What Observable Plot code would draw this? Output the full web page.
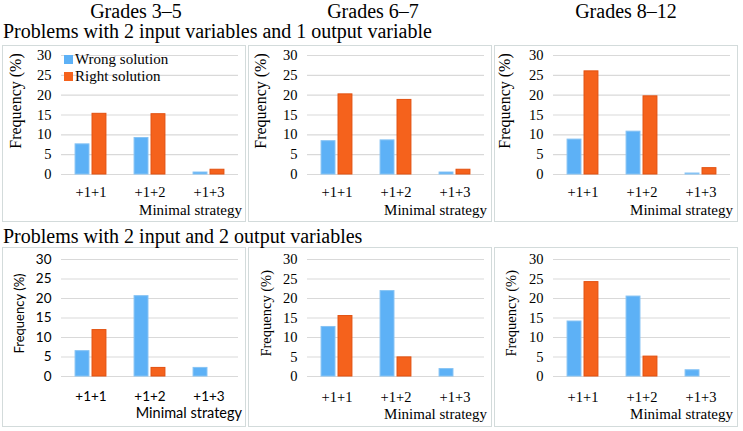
<!DOCTYPE html>
<html><head><meta charset="utf-8">
<script src="https://cdn.jsdelivr.net/npm/d3@7"></script>
<script src="https://cdn.jsdelivr.net/npm/@observablehq/plot@0.6"></script>
<style>
body{margin:0;background:#fff;}
#root{position:relative;width:743px;height:431px;overflow:hidden;background:#fff;font-family:"Liberation Serif","Times New Roman",serif;color:#000;}
.t{position:absolute;white-space:nowrap;color:#000;}
.sansTxt{font-family:"Lato","Open Sans",sans-serif;}
.panel{position:absolute;border:1px solid #d3dbdb;box-sizing:border-box;background:#fff;}
.panel svg{display:block;overflow:visible;}
.panel.serif svg, .panel.serif svg text{font-family:"Liberation Serif","Times New Roman",serif !important;}
.panel.sans svg, .panel.sans svg text{font-family:"Lato","Open Sans",sans-serif !important;}
.sw{position:absolute;width:9px;height:9px;}
</style></head><body><div id="root"></div>
<script>
const categories = ["+1+1", "+1+2", "+1+3"];
const series = ["Wrong solution", "Right solution"];
const gradeTitles = ["Grades 3–5", "Grades 6–7", "Grades 8–12"];
const rowTitles = ["Problems with 2 input variables and 1 output variable", "Problems with 2 input and 2 output variables"];
const yTicks = [0, 5, 10, 15, 20, 25, 30];
const yLabel = "Frequency (%)";
const xLabel = "Minimal strategy";

// Row 1: problems with 2 input variables and 1 output variable
const wrong_1out_g35  = [7.6, 9.2, 0.5];
const right_1out_g35  = [15.3, 15.2, 1.2];
const wrong_1out_g67  = [8.4, 8.6, 0.5];
const right_1out_g67  = [20.2, 18.8, 1.2];
const wrong_1out_g812 = [8.8, 10.8, 0.25];
const right_1out_g812 = [26.0, 19.7, 1.6];
// Row 2: problems with 2 input and 2 output variables
const wrong_2out_g35  = [6.5, 20.6, 2.2];
const right_2out_g35  = [11.9, 2.2, 0];
const wrong_2out_g67  = [12.7, 21.9, 1.9];
const right_2out_g67  = [15.5, 4.9, 0];
const wrong_2out_g812 = [14.1, 20.5, 1.6];
const right_2out_g812 = [24.2, 5.1, 0];

const BLUE = "#5db1f6", BLUE_S = "#86c3f4";
const ORANGE = "#f5621c", ORANGE_S = "#e2500f";

const root = document.getElementById("root");
function addText(txt, {left, top, size, align, width, sans, rotate}) {
  const d = document.createElement("div");
  d.className = "t" + (sans ? " sansTxt" : "");
  d.textContent = txt;
  d.style.fontSize = size + "px";
  d.style.lineHeight = size + "px";
  d.style.top = top + "px";
  d.style.left = left + "px";
  if (width) { d.style.width = width + "px"; d.style.textAlign = align || "left"; }
  if (rotate) d.style.transform = "rotate(" + rotate + "deg)";
  root.appendChild(d);
  return d;
}

function makePanel({wrong, right, left, top, w, h, mTop, mBottom, sans, tickSize, tickPad}) {
  const box = document.createElement("div");
  box.className = "panel " + (sans ? "sans" : "serif");
  box.style.left = left + "px"; box.style.top = top + "px";
  box.style.width = w + "px"; box.style.height = h + "px";
  const dataW = categories.map((c, i) => ({cat: c, s: series[0], v: wrong[i]}));
  const dataR = categories.map((c, i) => ({cat: c, s: series[1], v: right[i]}));
  const chart = Plot.plot({
    width: w - 2, height: h - 2,
    marginTop: mTop, marginBottom: mBottom, marginLeft: 57, marginRight: 7,
    style: {fontSize: tickSize + "px", color: "#000", background: "transparent", overflow: "visible"},
    fx: {domain: categories, padding: 0, label: null},
    x: {domain: series, paddingInner: 0.18, paddingOuter: 0.83, axis: null, round: false},
    y: {domain: [0, 30], label: null},
    marks: [
      Plot.gridY(yTicks, {stroke: "#d9d9d9", strokeOpacity: 1, strokeWidth: 1.2}),
      Plot.barY(dataW, {fx: "cat", x: "s", y: "v", fill: BLUE, stroke: BLUE_S, strokeWidth: 1}),
      Plot.barY(dataR, {fx: "cat", x: "s", y: "v", fill: ORANGE, stroke: ORANGE_S, strokeWidth: 1}),
      Plot.axisY({ticks: yTicks, tickSize: 0, tickPadding: 10, fontSize: tickSize, label: null}),
      Plot.axisFx({anchor: "bottom", tickSize: 0, tickPadding: tickPad, fontSize: tickSize, label: null})
    ]
  });
  box.appendChild(chart);
  root.appendChild(box);
}

const lefts = [2, 248, 494];
const row1 = [[wrong_1out_g35, right_1out_g35], [wrong_1out_g67, right_1out_g67], [wrong_1out_g812, right_1out_g812]];
const row2 = [[wrong_2out_g35, right_2out_g35], [wrong_2out_g67, right_2out_g67], [wrong_2out_g812, right_2out_g812]];

row1.forEach(([wr, rt], i) => makePanel({wrong: wr, right: rt, left: lefts[i], top: 45, w: 244, h: 177,
  mTop: 9, mBottom: 47, sans: false, tickSize: 14.5, tickPad: 12}));
row2.forEach(([wr, rt], i) => makePanel({wrong: wr, right: rt, left: lefts[i], top: 247, w: 244, h: 180,
  mTop: 11, mBottom: 50, sans: i === 0, tickSize: i === 0 ? 13.5 : 14.5, tickPad: 15}));

// axis titles (HTML text)
const yLabCX = [[16, 261, 505], [19, 266, 511]];
const yLabCY = [101, 313];
const yLabSize = [[16, 16, 16], [13, 14.5, 14.5]];
[0, 1].forEach(r => lefts.forEach((lx, i) => {
  const s = yLabSize[r][i];
  addText(yLabel, {left: yLabCX[r][i] - 100, top: yLabCY[r] - s / 2, size: s, width: 200, align: "center",
    sans: r === 1 && i === 0, rotate: -90});
}));
const xLabRight = [242, 487, 733];
const xLabCY = [210, 414];
[0, 1].forEach(r => lefts.forEach((lx, i) => {
  const sans = r === 1 && i === 0;
  const s = sans ? 14.5 : 15;
  addText(xLabel, {left: xLabRight[i] - 300, top: xLabCY[r] - (sans ? 8 : 7.3), size: s, width: 300, align: "right", sans});
}));

// titles
const gradeCenters = [136, 373, 626];
gradeTitles.forEach((g, i) => addText(g, {left: gradeCenters[i] - 200, top: 1.3, size: 20, width: 400, align: "center"}));
addText(rowTitles[0], {left: 3, top: 21.3, size: 20});
addText(rowTitles[1], {left: 3, top: 226.3, size: 20});

// legend (in first panel)
[[series[0], BLUE, 55], [series[1], ORANGE, 72]].forEach(([s, c, y]) => {
  const sw = document.createElement("div");
  sw.className = "sw"; sw.style.background = c; sw.style.left = "64px"; sw.style.top = y + "px";
  root.appendChild(sw);
  addText(s, {left: 75, top: y - 3, size: 15});
});
</script></body></html>
